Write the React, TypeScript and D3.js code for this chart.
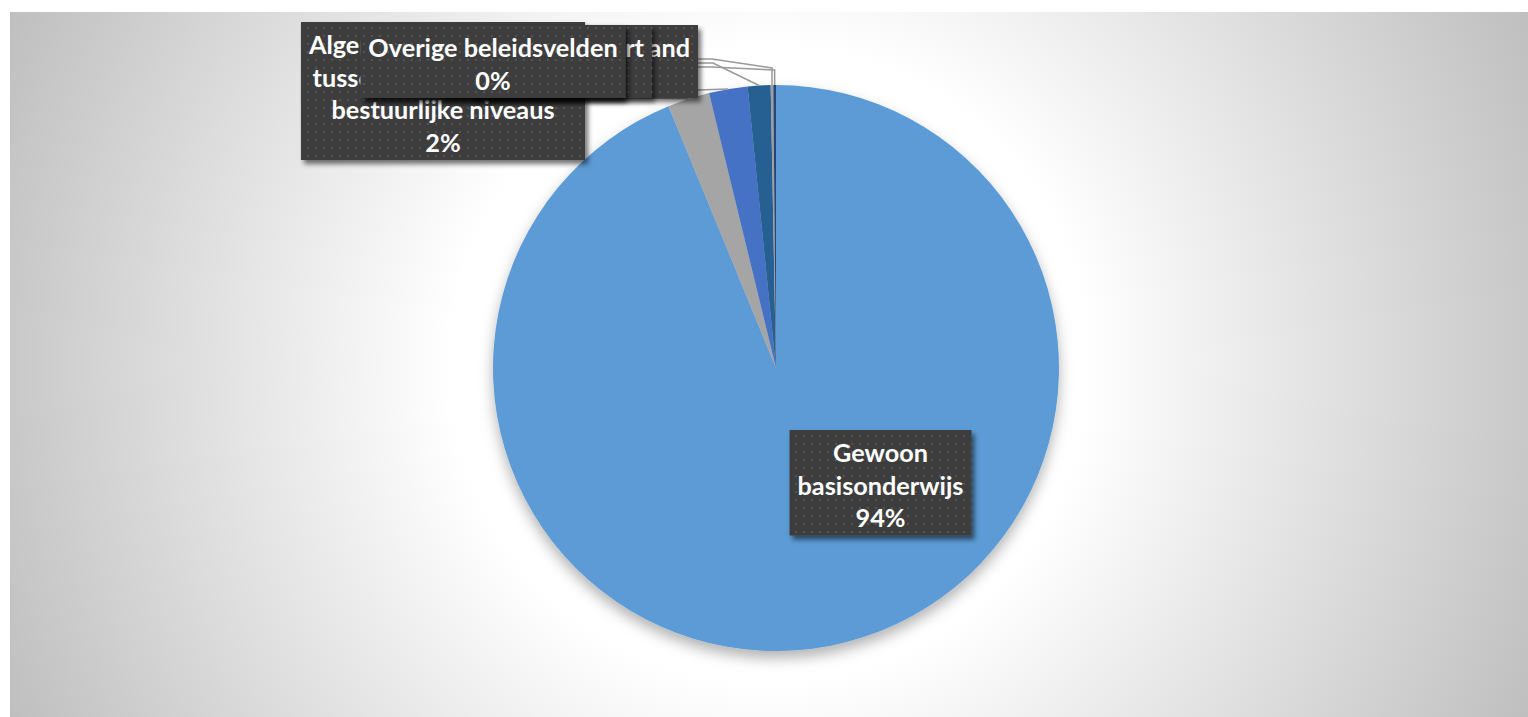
import React, { useEffect } from 'react';
import * as d3 from 'd3';

// ---- data ----
const categories = [
  'Gewoon basisonderwijs',
  'Algemene overdrachten tussen de verschillende bestuurlijke niveaus',
  'Onderwijs buitenland',
  'Kunst en sport',
  'Onderwijshuisvesting',
  'Overige beleidsvelden',
];
const values = [93.8, 2.4, 2.2, 1.3, 0.15, 0.15];
const colors = ['#5B9BD5', '#A5A5A5', '#4472C4', '#255E91', '#9E9E9E', '#264478'];
const labelLines = [
  ['Gewoon', 'basisonderwijs'],
  ['Algemene overdrachten', 'tussen de verschillende', 'bestuurlijke niveaus'],
  ['Onderwijs buitenland'],
  ['Kunst en sport'],
  ['Onderwijshuisvesting'],
  ['Overige beleidsvelden'],
];

// ---- layout ----
const W = 1528;
const H = 717;
const CX = 776;
const CY = 368;
const R = 283;
const FONT = 'Lato, "Open Sans", sans-serif';
const LINE_H = 32.5;
const PAD_X = 8;
const PAD_Y = 4;

const labelLayout = [
  { kind: 'center', x: CX + 104.5, y: 430 },
  { kind: 'center', x: 443, y: 22 },
  { kind: 'right', x: 698, y: 25 },
  { kind: 'right', x: 652, y: 25 },
  { kind: 'center', x: 493, y: 25 },
  { kind: 'center', x: 493, y: 25 },
];
const leaderLayout: (null | { y: number; elbowX?: number; drop?: number })[] = [
  null,
  { y: 97 },
  { y: 90 },
  { y: 63, elbowX: 713 },
  { y: 59, elbowX: 712, drop: 9 },
  { y: 67, elbowX: 712, drop: 3 },
];

function measure(text: string, size: number) {
  if (typeof document === 'undefined') return text.length * size * 0.5;
  const c = document.createElement('canvas');
  const ctx = c.getContext('2d')!;
  ctx.font = `bold ${size}px ${FONT}`;
  return ctx.measureText(text).width;
}

export default function App() {
  useEffect(() => {
    document.body.style.margin = '0';
    document.body.style.overflow = 'hidden';
  }, []);

  const fontSize = (100 * 166) / measure('basisonderwijs', 100);
  const total = d3.sum(values);
  const fmt = d3.format('.0%');
  const arcs = d3.pie<number>().sort(null).value((d) => d)(values);
  const arcGen = d3.arc<d3.PieArcDatum<number>>().innerRadius(0).outerRadius(R);

  const labels = values.map((v, i) => {
    const lines = [...labelLines[i], fmt(v / total)];
    const w = d3.max(lines, (l) => measure(l, fontSize))! + PAD_X * 2;
    const h = lines.length * LINE_H + PAD_Y * 2;
    const L = labelLayout[i];
    const left = L.kind === 'center' ? L.x - w / 2 : L.kind === 'right' ? L.x - w : L.x;
    return { lines, w, h, left, top: L.y, name: categories[i] };
  });

  const leaders = arcs.map((a, i) => {
    const ld = leaderLayout[i];
    if (!ld) return null;
    const mid = (a.startAngle + a.endAngle) / 2;
    const tx = CX + R * Math.sin(mid);
    const ty = CY - R * Math.cos(mid);
    const lb = labels[i];
    const sx = lb.left + lb.w;
    const pts: [number, number][] = [[sx, ld.y]];
    if (ld.elbowX !== undefined) pts.push([ld.elbowX, ld.y]);
    if (ld.drop !== undefined) pts.push([tx, ld.y + ld.drop]);
    pts.push([tx, ty]);
    return pts;
  });

  return (
    <svg width={W} height={H} style={{ display: 'block' }}>
      <defs>
        <radialGradient id="bg" gradientUnits="userSpaceOnUse" cx={769} cy={364.5} r={836}>
          <stop offset="0" stopColor="#FFFFFF" />
          <stop offset="0.38" stopColor="#FFFFFF" />
          <stop offset="1" stopColor="#BFBFBF" />
        </radialGradient>
        <pattern id="dots" width="8" height="8" patternUnits="userSpaceOnUse">
          <rect width="8" height="8" fill="#3E3E3E" />
          <circle cx="4" cy="4" r="1.1" fill="#585858" />
        </pattern>
        <filter id="pieShadow" x="-20%" y="-20%" width="140%" height="140%">
          <feDropShadow dx="0" dy="7" stdDeviation="7" floodColor="#000" floodOpacity="0.3" />
        </filter>
        <filter id="boxShadow" x="-20%" y="-20%" width="140%" height="150%">
          <feDropShadow dx="3" dy="4" stdDeviation="2.5" floodColor="#000" floodOpacity="0.55" />
        </filter>
      </defs>
      <rect x={0} y={0} width={W} height={H} fill="#FFFFFF" />
      <rect x={10} y={12} width={W - 10} height={H - 12} fill="url(#bg)" />
      <g filter="url(#pieShadow)">
        {arcs.map((a, i) => (
          <path key={i} d={arcGen(a)!} transform={`translate(${CX},${CY})`} fill={colors[i]} />
        ))}
      </g>
      <g fill="none" stroke="#999999" strokeWidth={1.5}>
        {leaders.map((pts, i) =>
          pts ? <polyline key={i} points={pts.map((p) => p.join(',')).join(' ')} /> : null
        )}
      </g>
      {labels.map((lb, i) => (
        <g key={i}>
          <rect
            x={lb.left}
            y={lb.top}
            width={lb.w}
            height={lb.h}
            fill="url(#dots)"
            filter="url(#boxShadow)"
          />
          {lb.lines.map((t, j) => (
            <text
              key={j}
              x={lb.left + lb.w / 2}
              y={lb.top + PAD_Y + LINE_H / 2 + 2 + j * LINE_H}
              textAnchor="middle"
              dominantBaseline="central"
              fill="#FFFFFF"
              fontFamily={FONT}
              fontWeight="bold"
              fontSize={fontSize}
            >
              {t}
            </text>
          ))}
        </g>
      ))}
    </svg>
  );
}
